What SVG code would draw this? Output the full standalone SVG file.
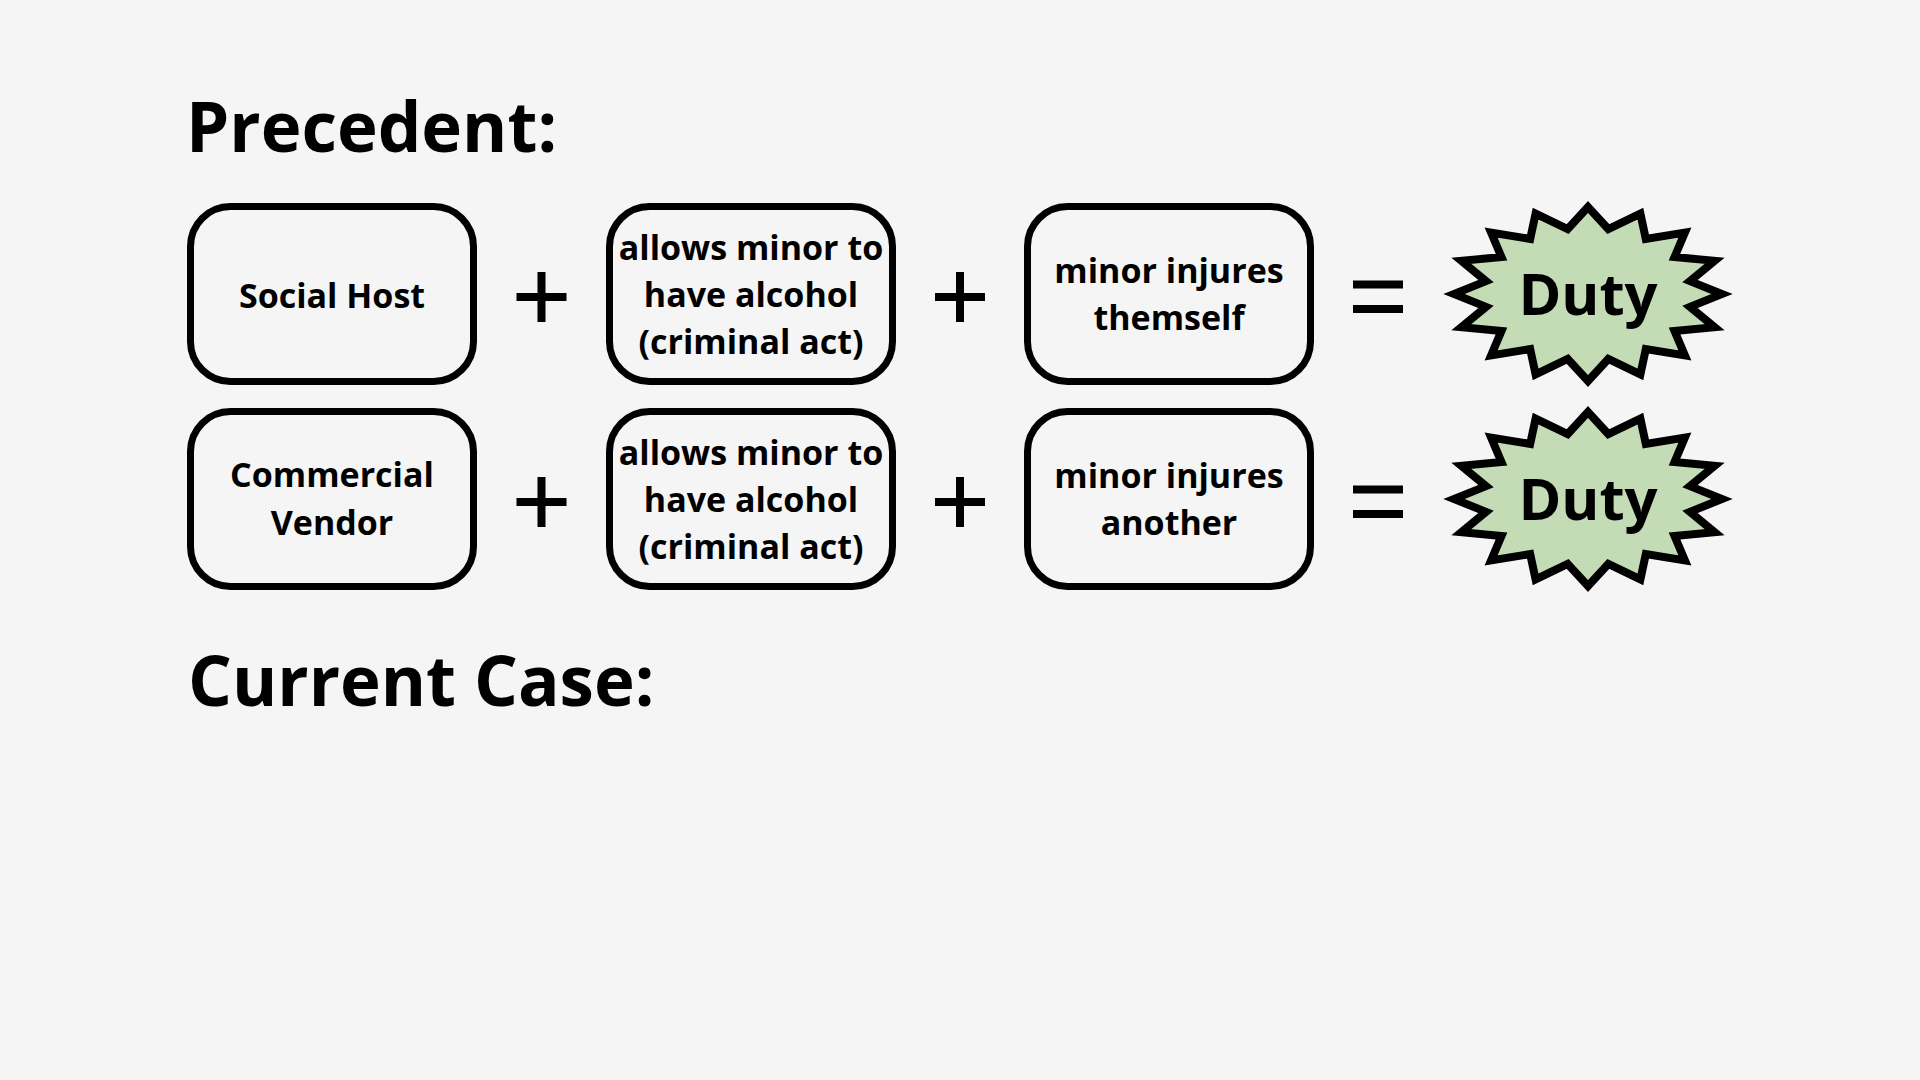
<svg xmlns="http://www.w3.org/2000/svg" xmlns:xlink="http://www.w3.org/1999/xlink" width="1920" height="1080" viewBox="0 0 1920 1080">
<style>
.bg{fill:#f5f5f5}
.head{font-family:"Open Sans","Liberation Sans",sans-serif;font-weight:700;font-size:69px;fill:#000}
.box{fill:none;stroke:#000;stroke-width:7}
.lbl{font-family:"Open Sans","Liberation Sans",sans-serif;font-weight:700;font-size:34px;fill:#000;text-anchor:middle}
.op{stroke:#000;stroke-width:8;fill:none}
.burst{fill:#c3dcb6;stroke:#000;stroke-width:8;stroke-linejoin:miter;stroke-miterlimit:10}
.duty{font-family:"Open Sans","Liberation Sans",sans-serif;font-weight:700;font-size:58px;fill:#000;text-anchor:middle}
</style>
<defs>
<path id="burst" d="M0,-87 L20.3,-65 L52.4,-80.4 L57.8,-55.1 L96.9,-61.5 L86.5,-36.9 L126.6,-33.2 L102,-12.9 L134,0 L102,12.9 L126.6,33.2 L86.5,36.9 L96.9,61.5 L57.8,55.1 L52.4,80.4 L20.3,65 L0,87 L-20.3,65 L-52.4,80.4 L-57.8,55.1 L-96.9,61.5 L-86.5,36.9 L-126.6,33.2 L-102,12.9 L-134,0 L-102,-12.9 L-126.6,-33.2 L-86.5,-36.9 L-96.9,-61.5 L-57.8,-55.1 L-52.4,-80.4 L-20.3,-65 Z"/>
<path id="plus" d="M-25,0 H25 M0,-25 V25"/>
<path id="equals" d="M-25,-12.3 H25 M-25,12.2 H25"/>
</defs>
<rect class="bg" x="0" y="0" width="1920" height="1080"/>

<g id="heading-precedent"><text class="head" x="186" y="152">Precedent:</text></g>
<g id="heading-current"><text class="head" x="188" y="706">Current Case:</text></g>

<g id="node-social-host">
<rect class="box" x="190.5" y="206.5" width="283" height="175" rx="40"/>
<text class="lbl" x="332" y="308">Social Host</text>
</g>
<g id="node-allows-1">
<rect class="box" x="609.5" y="206.5" width="283" height="175" rx="40"/>
<text class="lbl" x="751" y="260">allows minor to</text>
<text class="lbl" x="751" y="307">have alcohol</text>
<text class="lbl" x="751" y="354">(criminal act)</text>
</g>
<g id="node-injures-self">
<rect class="box" x="1027.5" y="206.5" width="283" height="175" rx="40"/>
<text class="lbl" x="1169" y="283">minor injures</text>
<text class="lbl" x="1169" y="330">themself</text>
</g>
<g id="node-duty-1">
<use href="#burst" xlink:href="#burst" class="burst" x="1588" y="294"/>
<text class="duty" x="1588" y="315">Duty</text>
</g>

<g id="node-commercial-vendor">
<rect class="box" x="190.5" y="411.5" width="283" height="175" rx="40"/>
<text class="lbl" x="332" y="487">Commercial</text>
<text class="lbl" x="332" y="535">Vendor</text>
</g>
<g id="node-allows-2">
<rect class="box" x="609.5" y="411.5" width="283" height="175" rx="40"/>
<text class="lbl" x="751" y="465">allows minor to</text>
<text class="lbl" x="751" y="512">have alcohol</text>
<text class="lbl" x="751" y="559">(criminal act)</text>
</g>
<g id="node-injures-another">
<rect class="box" x="1027.5" y="411.5" width="283" height="175" rx="40"/>
<text class="lbl" x="1169" y="488">minor injures</text>
<text class="lbl" x="1169" y="535">another</text>
</g>
<g id="node-duty-2">
<use href="#burst" xlink:href="#burst" class="burst" x="1588" y="499"/>
<text class="duty" x="1588" y="520">Duty</text>
</g>

<g id="connectors">
<use href="#plus" xlink:href="#plus" class="op" x="541.5" y="297"/>
<use href="#plus" xlink:href="#plus" class="op" x="960" y="297"/>
<use href="#equals" xlink:href="#equals" class="op" x="1378" y="296.8"/>
<use href="#plus" xlink:href="#plus" class="op" x="541.5" y="502"/>
<use href="#plus" xlink:href="#plus" class="op" x="960" y="502"/>
<use href="#equals" xlink:href="#equals" class="op" x="1378" y="501.8"/>
</g>
</svg>
